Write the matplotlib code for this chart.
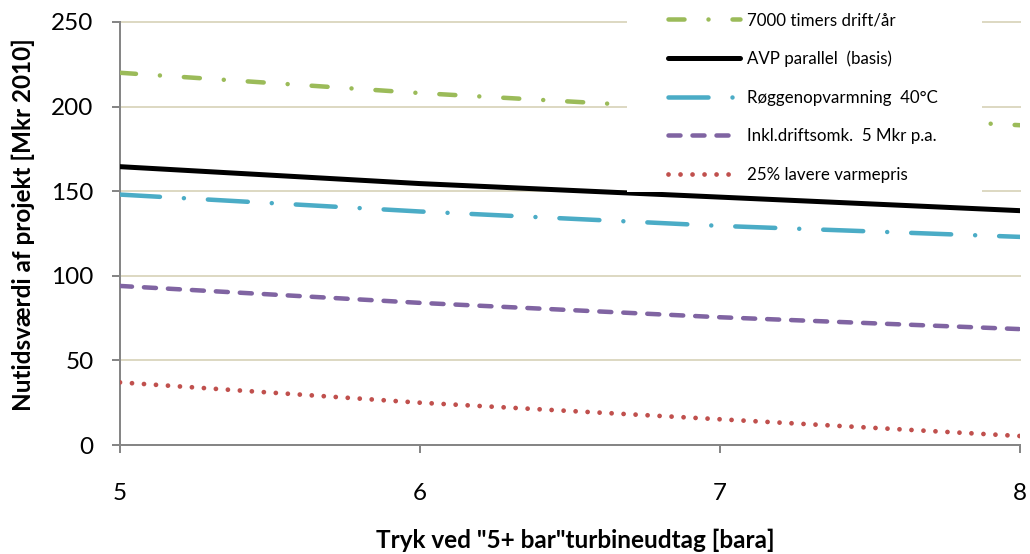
import matplotlib
matplotlib.use("Agg")
import matplotlib.pyplot as plt
from matplotlib.patches import Rectangle

plt.rcParams['font.family'] = ['Lato', 'DejaVu Sans']
plt.rcParams['lines.scale_dashes'] = False

# Data
pressure = [5, 6, 7, 8]
series_labels = ["7000 timers drift/år", "AVP parallel  (basis)", "Røggenopvarmning  40°C",
                 "Inkl.driftsomk.  5 Mkr p.a.", "25% lavere varmepris"]
green_7000 = [220, 208, 198, 189]
black_basis = [164.5, 154.5, 146.5, 138.5]
blue_roeg = [148, 138, 129.5, 123]
purple_drift = [94, 84, 75.5, 68.5]
red_varme = [37, 25, 15.2, 5.3]
x_ticks = [5, 6, 7, 8]
y_ticks = [0, 50, 100, 150, 200, 250]

W, H = 1030, 554
fig = plt.figure(figsize=(W / 100, H / 100), dpi=100)
ax = fig.add_axes([120 / W, 1 - 445 / H, 900 / W, 423 / H])

px = 0.72  # points per pixel
styles = [
    dict(color="#9BBB59", lw=4.5 * px, dashes=(16 * px, 24 * px, 0.01, 24 * px)),
    dict(color="#000000", lw=5 * px, dashes=None),
    dict(color="#4BACC6", lw=4.5 * px, dashes=(40 * px, 24 * px, 0.01, 24 * px)),
    dict(color="#8064A2", lw=4.5 * px, dashes=(12 * px, 12 * px)),
    dict(color="#C0504D", lw=4.8 * px, dashes=(0.01, 12 * px)),
]
data = [green_7000, black_basis, blue_roeg, purple_drift, red_varme]

handles = []
for ys, st, lab in zip(data, styles, series_labels):
    if st["dashes"] is None:
        (ln,) = ax.plot(pressure, ys, color=st["color"], lw=st["lw"], label=lab,
                        solid_capstyle="round", zorder=3)
    else:
        (ln,) = ax.plot(pressure, ys, color=st["color"], lw=st["lw"], label=lab,
                        dashes=st["dashes"], dash_capstyle="round", zorder=3)
    handles.append(ln)

ax.set_xlim(5, 8)
ax.set_ylim(0, 250)
ax.set_xticks(x_ticks)
ax.set_yticks(y_ticks)
ax.set_xticklabels([str(v) for v in x_ticks])
ax.set_yticklabels([str(v) for v in y_ticks])

grid_c = "#DDD9C3"
for v in y_ticks[1:]:
    ax.axhline(v, color=grid_c, lw=2 * px, zorder=1, clip_on=False)

for s in ["top", "right"]:
    ax.spines[s].set_visible(False)
for s in ["left", "bottom"]:
    ax.spines[s].set_color("#868686")
    ax.spines[s].set_linewidth(2 * px)
    ax.spines[s].set_zorder(2)

ax.tick_params(axis="both", direction="out", length=6, width=2 * px, color="#868686",
               labelsize=17.5, labelcolor="black")
ax.tick_params(axis="x", pad=21)
ax.tick_params(axis="y", pad=13)

# White legend background
rect = Rectangle((627 / W, 1 - 192 / H), 355 / W, 192 / H, transform=fig.transFigure,
                 facecolor="white", edgecolor="none", zorder=4, clip_on=False)
ax.add_artist(rect)

leg = ax.legend(handles=handles, loc="upper left",
                bbox_to_anchor=(668 / W, 1 - 12 / H), bbox_transform=fig.transFigure,
                frameon=False, fontsize=12.2, handlelength=4.26, handletextpad=0.4,
                labelspacing=1.33, borderpad=0, borderaxespad=0)
leg.set_zorder(5)

fig.text(23 / W, 1 - 225 / H, "Nutidsværdi af projekt [Mkr 2010]", rotation=90,
         ha="center", va="center", fontsize=17.5, fontweight="bold")
fig.text(575 / W, 1 - 540 / H, 'Tryk ved "5+ bar"turbineudtag [bara]',
         ha="center", va="center", fontsize=17.5, fontweight="bold")

fig.savefig("out.png", dpi=100)
